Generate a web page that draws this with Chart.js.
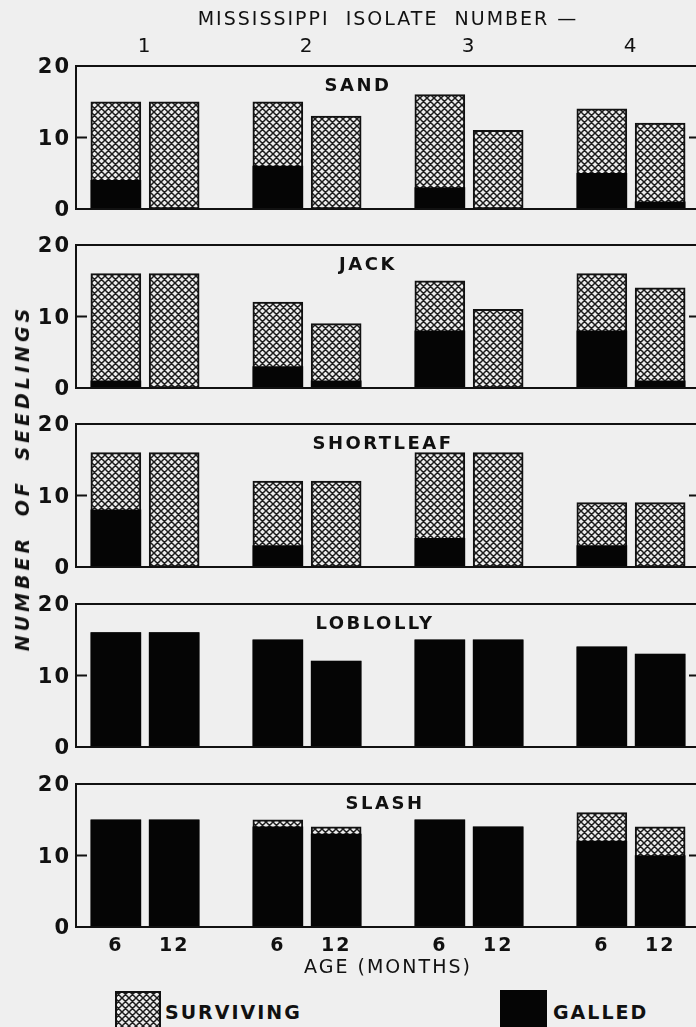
<!DOCTYPE html>
<html>
<head>
<meta charset="utf-8">
<script src="https://cdn.jsdelivr.net/npm/chart.js@4.4.1/dist/chart.umd.min.js"></script>
<style>
  body { margin: 0; background: #efefef; width: 696px; height: 1027px; overflow: hidden; position: relative; font-family: "DejaVu Sans", sans-serif; color: #111; }
  canvas.panel { position: absolute; left: 0; }
  .txt { position: absolute; white-space: nowrap; }
  #ytitle { left: 22px; top: 478px; transform: translate(-50%, -50%) rotate(-90deg); font: italic bold 19px "DejaVu Sans"; letter-spacing: 4px; word-spacing: 8px; }
  .leg { font-size: 19px; font-weight: bold; letter-spacing: 2px; }
</style>
</head>
<body>
<canvas class="panel" id="p0" width="720" height="234" style="top:0px"></canvas>
<canvas class="panel" id="p1" width="720" height="193" style="top:220px"></canvas>
<canvas class="panel" id="p2" width="720" height="193" style="top:399px"></canvas>
<canvas class="panel" id="p3" width="720" height="193" style="top:579px"></canvas>
<canvas class="panel" id="p4" width="720" height="228" style="top:759px"></canvas>

<div class="txt" id="ytitle">NUMBER OF SEEDLINGS</div>

<canvas id="swSurv" width="46" height="40" style="position:absolute;left:115px;top:991px"></canvas>
<div class="txt leg" style="left:165px;top:1001px">SURVIVING</div>
<div style="position:absolute;left:500px;top:990px;width:47px;height:40px;background:#050505"></div>
<div class="txt leg" style="left:553px;top:1001px">GALLED</div>

<script>
// Pine hosts, isolates and seedling ages
const hosts = ['SAND', 'JACK', 'SHORTLEAF', 'LOBLOLLY', 'SLASH'];
const isolates = ['1', '2', '3', '4'];
const ages = ['6', '12'];

// Bars run isolate 1 (6, 12 mo), isolate 2 (6, 12 mo), ...
const survSand      = [15, 15, 15, 13, 16, 11, 14, 12];
const galledSand    = [4, 0, 6, 0, 3, 0, 5, 1];
const survJack      = [16, 16, 12, 9, 15, 11, 16, 14];
const galledJack    = [1, 0, 3, 1, 8, 0, 8, 1];
const survShortleaf = [16, 16, 12, 12, 16, 16, 9, 9];
const galledShortleaf = [8, 0, 3, 0, 4, 0, 3, 0];
const survLoblolly  = [16, 16, 15, 12, 15, 15, 14, 13];
const galledLoblolly = [16, 16, 15, 12, 15, 15, 14, 13];
const survSlash     = [15, 15, 15, 14, 15, 14, 16, 14];
const galledSlash   = [15, 15, 14, 13, 15, 14, 12, 10];

const surviving = [survSand, survJack, survShortleaf, survLoblolly, survSlash];
const galled = [galledSand, galledJack, galledShortleaf, galledLoblolly, galledSlash];

// where each host name sits (pixels) and layout bits
const nameX = [358, 368, 383, 375, 385];
const ageShift = 0.18;
const xMin = 0.574, xMax = 4.426;
const PAD = 25;
const FONT = '"DejaVu Sans", sans-serif';

function makeHatch() {
  const s = 7;
  const c = document.createElement('canvas');
  c.width = s; c.height = s;
  const g = c.getContext('2d');
  g.fillStyle = '#ececec';
  g.fillRect(0, 0, s, s);
  g.strokeStyle = '#1c1c1c';
  g.lineWidth = 1.5;
  g.beginPath();
  for (const o of [-s, 0, s]) {
    g.moveTo(o, 0); g.lineTo(o + s, s);
    g.moveTo(o, s); g.lineTo(o + s, 0);
  }
  g.stroke();
  return c;
}
const hatchTile = makeHatch();

function barX(k) {
  return Math.floor(k / 2) + 1 + (k % 2 ? ageShift : -ageShift);
}

// box round the plot plus the short inward ticks on both sides
const framePlugin = {
  id: 'frame',
  afterDatasetsDraw(chart) {
    const { ctx, chartArea: a } = chart;
    const y = chart.scales.y;
    ctx.save();
    ctx.strokeStyle = '#111';
    ctx.lineWidth = 2;
    ctx.strokeRect(a.left, a.top, a.right - a.left, a.bottom - a.top);
    ctx.beginPath();
    y.ticks.forEach(t => {
      const py = y.getPixelForValue(t.value);
      ctx.moveTo(a.left, py); ctx.lineTo(a.left + 11, py);
      ctx.moveTo(a.right, py); ctx.lineTo(a.right - 11, py);
    });
    ctx.stroke();
    ctx.restore();
  }
};

// lettering is spaced out a little
const spacingPlugin = {
  id: 'spacing',
  beforeDraw(chart) { chart.ctx.letterSpacing = '2px'; },
  afterDraw(chart) { chart.ctx.letterSpacing = '0px'; }
};

const namePlugin = {
  id: 'hostName',
  afterDraw(chart, args, opts) {
    const { ctx, chartArea: a } = chart;
    ctx.save();
    ctx.font = 'bold 18px ' + FONT;
    ctx.letterSpacing = '2.5px';
    ctx.fillStyle = '#111';
    ctx.textAlign = 'center';
    ctx.textBaseline = 'middle';
    ctx.fillText(opts.text, opts.x, a.top + 20);
    ctx.restore();
  }
};

function buildPanel(i) {
  const canvas = document.getElementById('p' + i);
  const ctx = canvas.getContext('2d');
  const hatch = ctx.createPattern(hatchTile, 'repeat');
  const first = i === 0, last = i === hosts.length - 1;

  const scales = {
    x: {
      type: 'linear',
      min: xMin, max: xMax,
      offset: false,
      display: last,
      grid: { display: false, drawTicks: false },
      border: { display: false },
      afterBuildTicks: s => { s.ticks = surviving[i].map((v, k) => ({ value: barX(k) })); },
      afterFit: s => { if (last) s.height = 60; },
      ticks: {
        autoSkip: false, maxRotation: 0, padding: 8, color: '#111',
        font: { family: FONT, size: 19, weight: 'bold' },
        callback: (v, k) => ages[k % 2]
      },
      title: {
        display: true, text: 'AGE (MONTHS)', color: '#111',
        font: { family: FONT, size: 19 }, padding: { top: 0, bottom: 8 }
      }
    },
    y: {
      min: 0, max: 20,
      grid: { display: false, drawTicks: false },
      border: { display: false },
      afterFit: s => { s.width = 76; },
      ticks: {
        stepSize: 10, padding: 5, color: '#111', labelOffset: 2,
        font: { family: FONT, size: 21, weight: 'bold' }
      }
    }
  };
  if (first) {
    scales.x2 = {
      type: 'linear', position: 'top',
      min: xMin, max: xMax,
      offset: false,
      grid: { display: false, drawTicks: false },
      border: { display: false },
      afterBuildTicks: s => { s.ticks = isolates.map((n, k) => ({ value: k + 1 })); },
      afterFit: s => { s.height = 66; },
      ticks: {
        autoSkip: false, maxRotation: 0, padding: 7, color: '#111',
        font: { family: FONT, size: 20 },
        callback: (v, k) => isolates[k]
      },
      title: {
        display: true, text: 'MISSISSIPPI  ISOLATE  NUMBER \u2014', color: '#111',
        font: { family: FONT, size: 19 }, padding: { top: 9, bottom: 0 }
      }
    };
  }

  new Chart(ctx, {
    type: 'bar',
    data: {
      datasets: [
        {
          label: 'GALLED',
          data: galled[i].map((v, k) => ({ x: barX(k), y: v })),
          backgroundColor: '#050505',
          borderColor: '#050505',
          borderWidth: 0
        },
        {
          label: 'SURVIVING',
          data: surviving[i].map((v, k) => ({ x: barX(k), y: v })),
          backgroundColor: hatch,
          borderColor: '#111',
          borderWidth: 2,
          borderSkipped: false
        }
      ]
    },
    options: {
      responsive: false,
      animation: false,
      layout: { padding: { top: first ? 0 : PAD, bottom: last ? 0 : PAD, left: 0, right: 20 } },
      datasets: { bar: { grouped: false, barThickness: 50 } },
      scales: scales,
      plugins: {
        legend: { display: false },
        tooltip: { enabled: false },
        hostName: { text: hosts[i], x: nameX[i] }
      }
    },
    plugins: [spacingPlugin, framePlugin, namePlugin]
  });
}

hosts.forEach((h, i) => buildPanel(i));

// legend swatch for the surviving fill
(function () {
  const c = document.getElementById('swSurv');
  const g = c.getContext('2d');
  g.fillStyle = g.createPattern(hatchTile, 'repeat');
  g.fillRect(0, 0, c.width, c.height);
  g.strokeStyle = '#111';
  g.lineWidth = 2;
  g.strokeRect(1, 1, c.width - 2, c.height + 4);
})();
</script>
</body>
</html>
